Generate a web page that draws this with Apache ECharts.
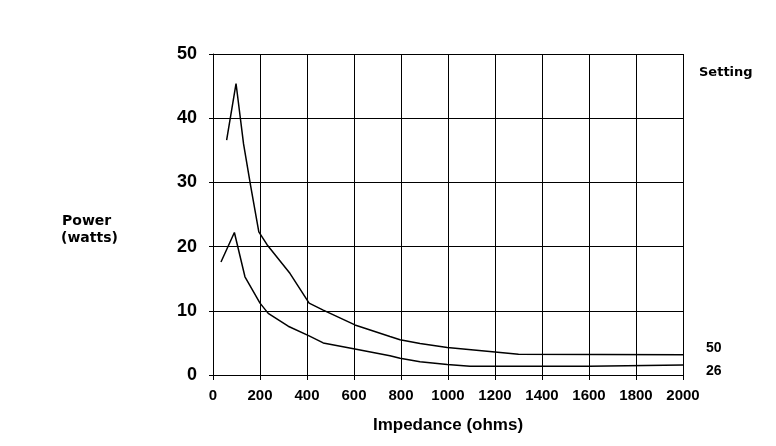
<!DOCTYPE html>
<html>
<head>
<meta charset="utf-8">
<script src="https://cdn.jsdelivr.net/npm/echarts@6/dist/echarts.min.js"></script>
<style>html,body{margin:0;padding:0;background:#fff}#c{width:776px;height:446px}</style>
</head>
<body>
<div id="c"></div>
<script>
// Impedance (ohms) / Power (watts) readings for each setting
const setting50 = [[58,36.6],[98,45.4],[130,36],[160,29.5],[195,22.3],[230,20.3],[328,15.8],[409,11.2],[469,10.1],[604,7.8],[753,6.0],[796,5.5],[881,4.9],[997,4.3],[1200,3.6],[1300,3.25],[2000,3.15]];
const setting26 = [[34,17.6],[91,22.2],[136,15.3],[200,11.2],[235,9.6],[320,7.6],[409,6.1],[469,5.0],[604,4.05],[753,3.0],[796,2.6],[881,2.07],[997,1.65],[1094,1.35],[1600,1.35],[1600,1.55],[2000,1.55]];
const seriesNames = ['50','26'];
const xMax = 2000, xStep = 200, yMax = 50, yStep = 10;

const FONT = '"Liberation Sans", Arial, sans-serif';
const WIDE = '"DejaVu Sans", Verdana, sans-serif';
const chart = echarts.init(document.getElementById('c'), null, {renderer:'canvas'});
chart.setOption({
  animation:false,
  backgroundColor:'#fff',
  grid:{left:213, right:93, top:54, bottom:71, containLabel:false},
  xAxis:{
    type:'value', min:0, max:xMax, interval:xStep,
    name:'Impedance (ohms)', nameLocation:'middle', nameGap:42,
    nameTextStyle:{fontFamily:FONT, fontWeight:'bold', fontSize:17, color:'#000'},
    axisLine:{show:true, lineStyle:{color:'#000', width:1}},
    axisTick:{show:true, length:5, lineStyle:{color:'#000'}},
    axisLabel:{margin:13, fontFamily:FONT, fontWeight:'bold', fontSize:15, color:'#000', formatter:v=>String(v)},
    splitLine:{show:true, lineStyle:{color:'#000', width:1}}
  },
  yAxis:{
    type:'value', min:0, max:yMax, interval:yStep,
    axisLine:{show:true, lineStyle:{color:'#000', width:1}},
    axisTick:{show:true, length:4, lineStyle:{color:'#000'}},
    axisLabel:{margin:16, fontFamily:FONT, fontWeight:'bold', fontSize:18, color:'#000', formatter:v=>String(v)},
    splitLine:{show:true, lineStyle:{color:'#000', width:1}}
  },
  graphic:[
    {type:'text', left:62, top:214, style:{text:'Power', font:'bold 14px '+WIDE, fill:'#000'}},
    {type:'text', left:61, top:231, style:{text:'(watts)', font:'bold 14px '+WIDE, fill:'#000'}},
    {type:'text', left:699, top:66, style:{text:'Setting', font:'bold 13px '+WIDE, fill:'#000'}}
  ],
  series:[
    {type:'line', name:seriesNames[0], data:setting50, showSymbol:false, symbol:'none',
     lineStyle:{color:'#000', width:1.5},
     endLabel:{show:true, formatter:seriesNames[0], offset:[15,-7], fontFamily:FONT, fontWeight:'bold', fontSize:14, color:'#000', align:'left'}},
    {type:'line', name:seriesNames[1], data:setting26, showSymbol:false, symbol:'none',
     lineStyle:{color:'#000', width:1.5},
     endLabel:{show:true, formatter:seriesNames[1], offset:[15,6], fontFamily:FONT, fontWeight:'bold', fontSize:14, color:'#000', align:'left'}}
  ]
});
</script>
</body>
</html>
